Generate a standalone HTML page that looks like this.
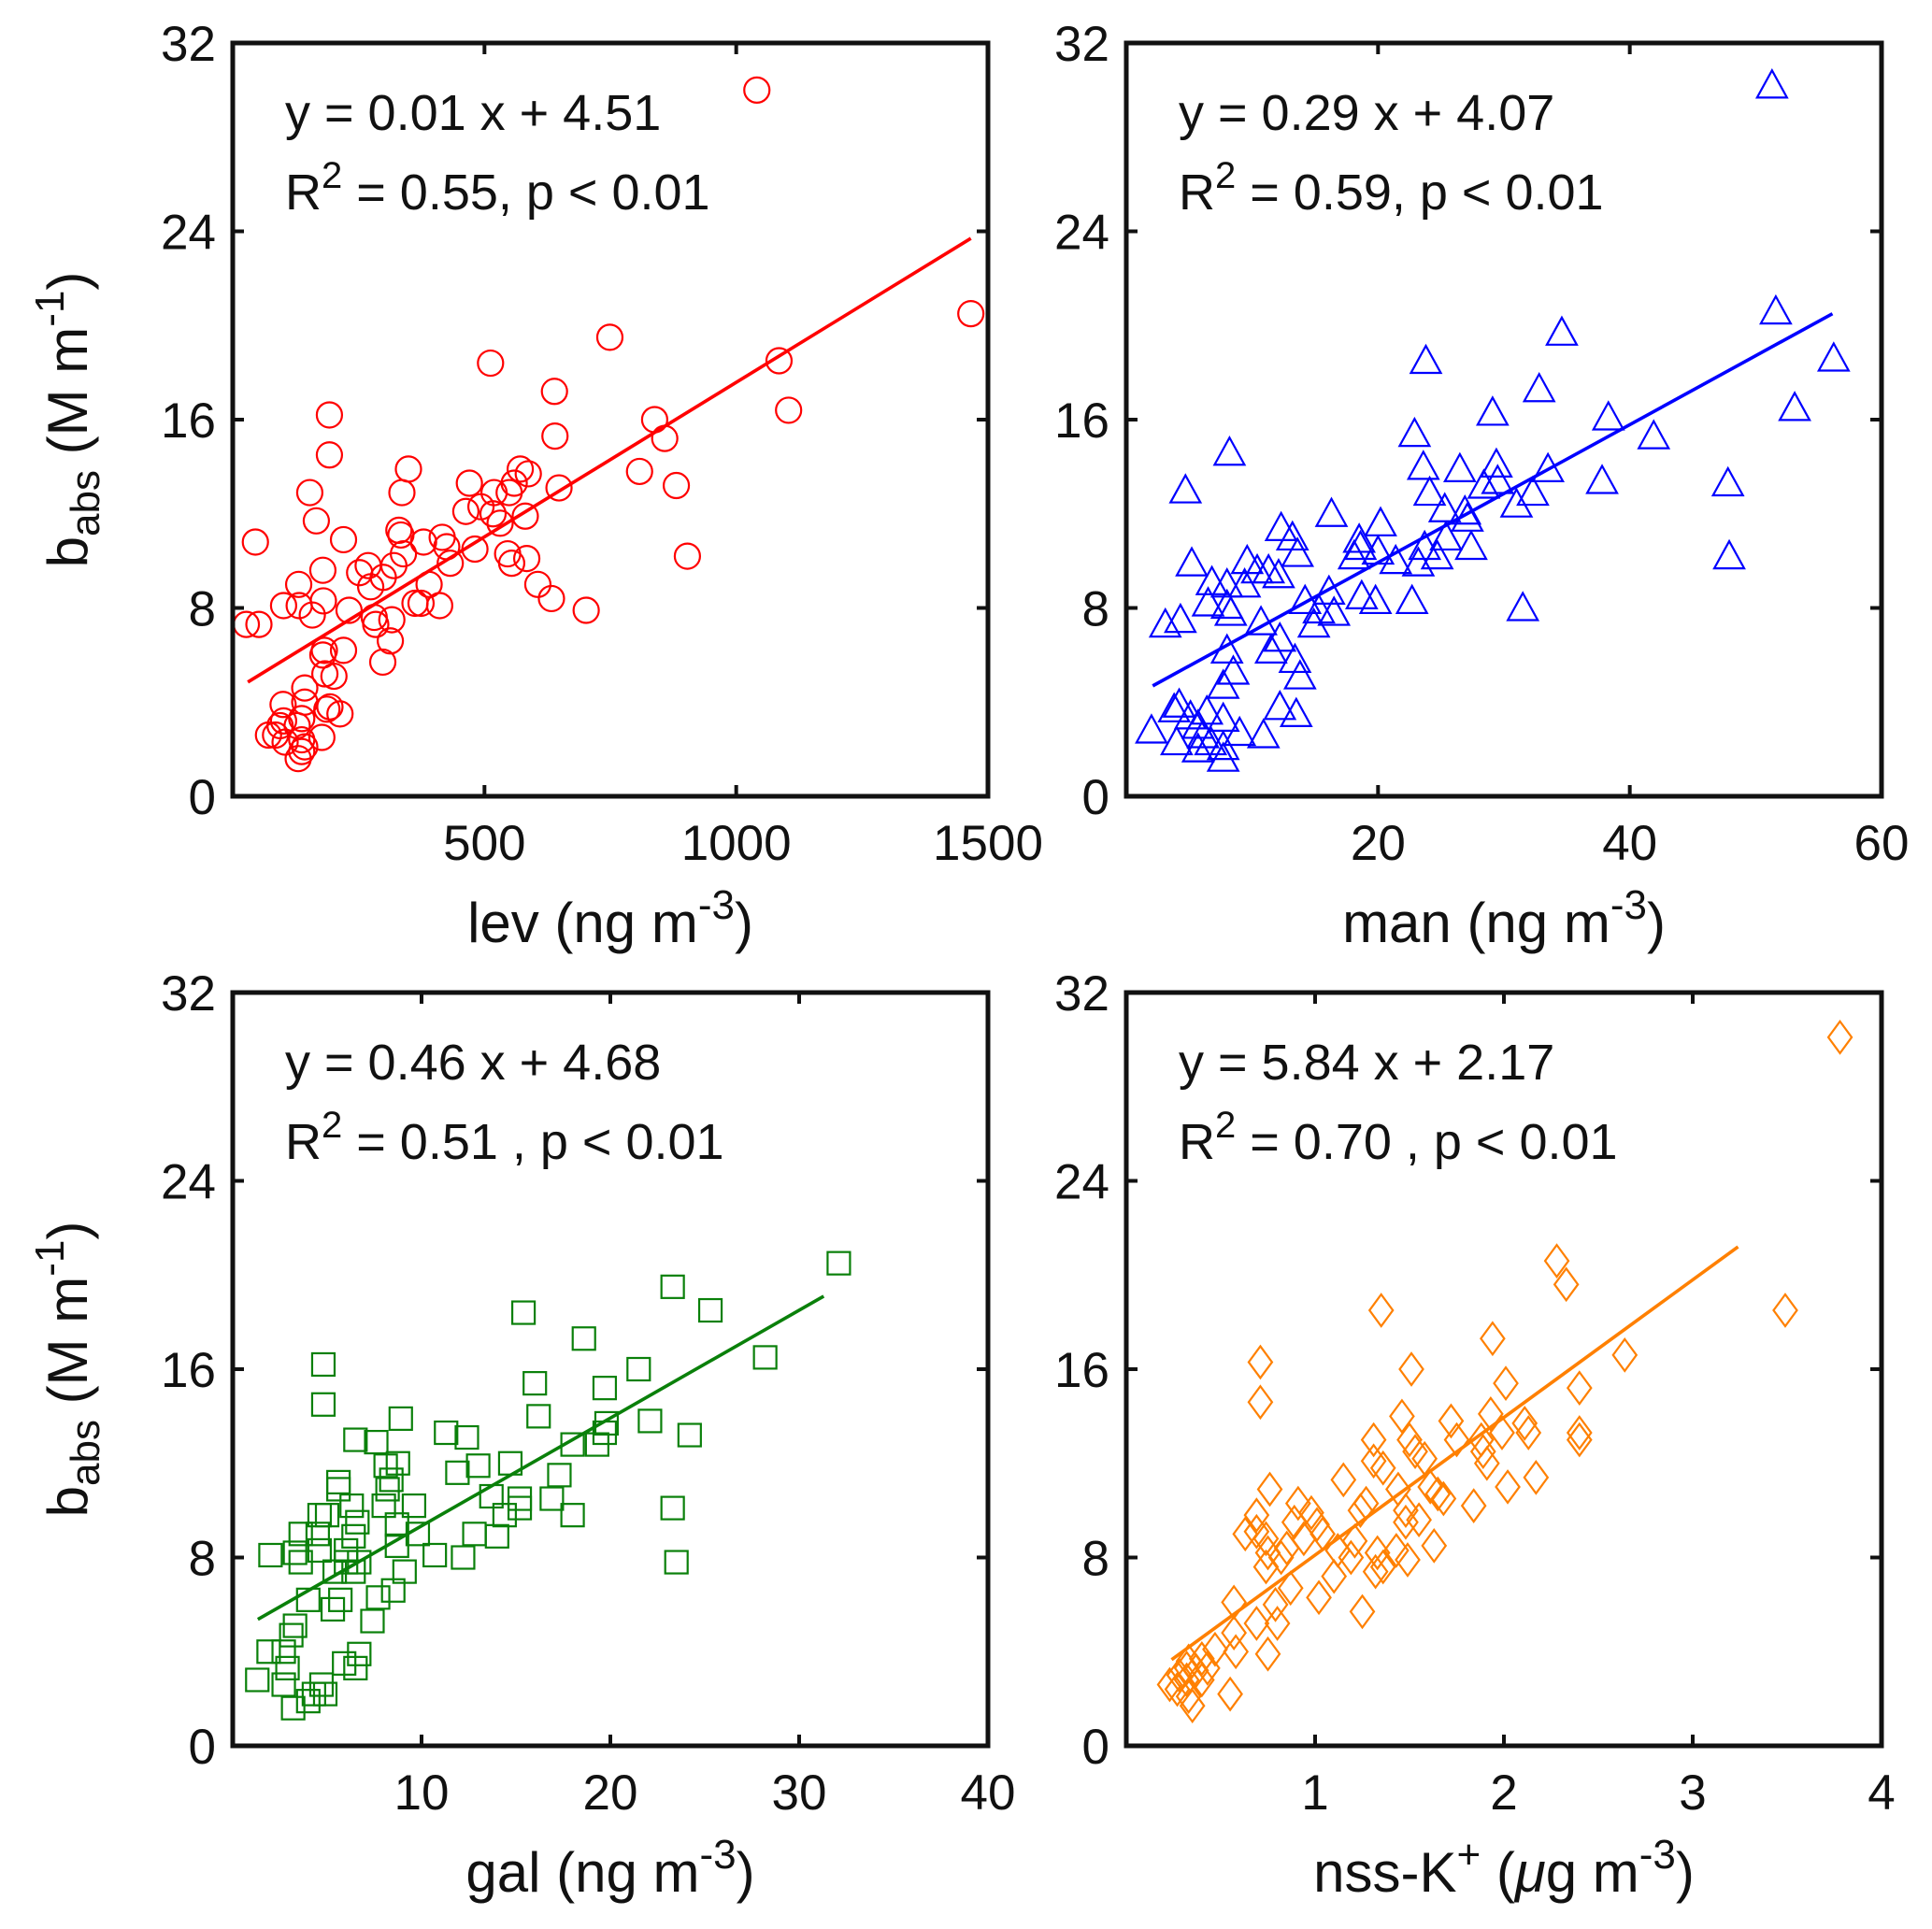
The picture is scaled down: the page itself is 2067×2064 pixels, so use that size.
<!DOCTYPE html>
<html><head><meta charset="utf-8"><style>
html,body{margin:0;padding:0;background:#fff;}
svg{display:block;font-family:"Liberation Sans",Arial,sans-serif;}
</style></head>
<body>
<svg id="fig" width="2067" height="2064" viewBox="0 0 2067 2064" xmlns="http://www.w3.org/2000/svg"></svg>
<script>
// ---- data ----
const yTicks = [0, 8, 16, 24, 32];
const levX = [1041,1466,749,512,1085,639,1104,192,838,640,858,192,349,571,808,587,470,336,559,549,519,153,648,881,463,493,517,581,531,166,330,334,45,220,416,379,425,481,546,584,554,903,432,339,320,252,269,179,299,274,131,390,606,633,362,411,374,180,101,132,158,231,281,702,316,27,52,284,313,182,220,179,298,201,183,143,143,100,193,213,187,137,101,71,85,94,128,177,137,104,143,137,130];
const levY = [30.0,20.5,19.5,18.4,18.5,17.2,16.4,16.2,16.0,15.3,15.2,14.5,13.9,13.9,13.8,13.7,13.3,12.9,13.3,12.9,12.9,12.9,13.1,13.2,12.1,12.3,12.0,11.9,11.6,11.7,11.3,11.1,10.8,10.9,11.0,10.8,10.6,10.5,10.3,10.1,9.9,10.2,9.9,10.3,9.8,9.5,9.8,9.6,9.3,8.9,9.0,9.0,9.0,8.4,8.2,8.1,8.2,8.3,8.1,8.1,7.7,7.9,7.6,7.9,7.5,7.3,7.3,7.3,6.6,6.2,6.2,6.0,5.7,5.1,5.2,4.6,4.0,3.9,3.8,3.5,3.7,3.3,3.2,2.6,2.6,3.0,3.0,2.5,2.4,2.3,2.1,1.9,1.6];
const levFitX = [30, 1466];
const levFitY = [4.85, 23.7];
const levTicks = [500, 1000, 1500];

const manX = [51.3,51.6,34.6,23.8,56.2,32.8,53.1,38.3,29.1,22.9,41.9,8.2,23.6,26.5,29.4,33.5,4.7,37.8,47.8,29.5,28.4,24.1,32.3,31.0,25.3,26.9,27.1,16.3,20.2,47.9,12.3,13.2,13.6,18.5,18.6,18.1,20.0,21.4,23.7,24.7,25.4,27.4,23.2,18.7,19.8,22.7,31.5,5.2,6.8,8.0,9.6,10.4,11.3,12.1,9.4,6.5,8.0,8.3,3.1,4.3,14.2,15.3,16.1,16.5,14.9,10.7,12.2,11.5,13.4,13.8,8.0,8.5,7.7,4.2,3.8,12.2,13.5,2.0,5.1,6.4,7.7,5.7,9.0,10.9,4.0,5.7,6.7,7.7,7.7,6.1];
const manY = [30.2,20.6,19.7,18.5,18.6,17.3,16.5,16.1,16.3,15.4,15.3,14.6,14.0,13.9,14.1,13.9,13.0,13.4,13.3,13.4,13.2,12.9,12.9,12.4,12.2,12.1,11.8,12.0,11.6,10.2,11.4,11.0,10.3,10.9,10.6,10.2,10.4,10.0,10.6,10.2,11.0,10.6,9.9,8.5,8.3,8.3,8.0,9.9,9.1,9.0,10.0,9.6,9.6,9.4,9.0,8.2,8.1,7.8,7.3,7.5,8.3,7.9,8.7,7.8,7.3,7.4,6.7,6.2,5.8,5.1,6.2,5.3,4.7,3.9,3.7,3.8,3.5,2.8,3.4,3.6,3.3,3.0,2.7,2.6,2.3,2.0,2.3,2.1,1.6,2.6];
const manFitX = [2.1, 56.1];
const manFitY = [4.69, 20.5];
const manTicks = [20, 40, 60];

const galX = [32.1,23.3,25.3,15.4,18.6,4.8,28.2,21.5,16.0,19.7,4.8,8.9,16.2,22.1,19.8,19.7,11.3,12.4,24.2,6.5,7.6,18.0,19.3,8.1,8.75,13.0,14.7,11.9,17.3,5.6,5.6,8.4,8.2,6.3,8.0,9.6,13.7,15.2,16.9,15.2,14.4,18.0,23.3,4.6,5.0,6.6,8.7,3.6,4.5,6.4,9.8,12.8,14.0,8.7,2.0,3.3,3.6,4.6,6.0,6.7,6.0,10.7,12.2,23.5,5.4,6.4,9.1,8.5,4.0,5.7,7.7,5.3,7.4,3.3,3.1,1.9,2.7,2.9,5.9,6.7,6.5,1.3,2.7,4.7,4.9,4.3,4.0,3.2];
const galY = [20.5,19.5,18.5,18.4,17.3,16.2,16.5,16.0,15.4,15.2,14.5,13.9,14.0,13.8,13.7,13.3,13.3,13.1,13.2,13.0,12.9,12.8,12.8,11.9,12.0,11.9,12.0,11.6,11.5,11.2,10.9,11.3,10.9,10.2,10.2,10.2,10.6,10.5,10.5,10.1,9.8,9.8,10.1,9.8,9.8,9.5,9.4,9.0,9.0,8.9,9.0,9.0,8.9,8.5,8.1,8.2,7.8,8.3,8.3,7.8,7.8,8.1,8.0,7.8,7.4,7.4,7.4,6.6,6.2,6.2,6.3,5.8,5.3,5.1,4.7,4.0,4.0,3.3,3.5,3.9,3.3,2.8,2.6,2.6,2.2,2.2,1.9,1.6];
const galFitX = [1.33, 31.3];
const galFitY = [5.37, 19.1];
const galTicks = [10, 20, 30, 40];

const kX = [3.78,3.49,2.28,2.33,1.35,1.94,2.64,0.71,1.51,2.01,2.40,0.71,1.46,1.72,1.93,2.11,2.13,2.40,2.40,1.31,1.50,1.88,1.99,1.75,1.31,1.36,1.53,1.58,1.89,1.91,1.15,0.76,2.02,2.17,1.44,1.65,1.68,1.61,1.84,1.27,1.24,0.91,0.98,1.01,0.89,1.48,1.55,1.48,0.69,0.63,0.74,0.69,0.75,0.82,0.85,0.94,1.04,1.63,1.12,1.19,1.21,1.33,1.36,1.43,1.49,1.32,0.74,1.10,0.87,1.02,0.57,1.25,0.79,0.69,0.80,0.57,0.58,0.75,0.47,0.40,0.33,0.37,0.28,0.43,0.32,0.23,0.27,0.33,0.35,0.55,0.40,0.32];
const kY = [30.1,18.5,20.6,19.6,18.5,17.3,16.6,16.3,16.0,15.4,15.2,14.6,14.0,13.8,14.1,13.7,13.3,13.3,13.0,13.0,13.0,13.0,13.3,13.0,12.1,11.8,12.5,12.2,12.5,12.0,11.3,10.9,11.0,11.4,10.9,10.7,10.5,11.0,10.2,10.3,10.0,10.3,9.9,9.4,9.5,10.0,9.6,9.5,9.8,9.0,8.8,9.1,8.2,8.0,8.4,8.8,9.0,8.5,8.3,8.0,8.7,8.2,7.6,8.3,7.9,7.4,7.6,7.2,6.7,6.3,6.1,5.7,6.0,5.2,5.2,4.8,4.0,3.9,4.1,3.7,3.6,3.2,3.0,3.3,2.8,2.6,2.4,2.1,1.7,2.2,2.8,3.3];
const kFitX = [0.24, 3.24];
const kFitY = [3.66, 21.2];
const kTicks = [1, 2, 3, 4];

// ---- drawing ----
const NS = "http://www.w3.org/2000/svg";
const svg = document.getElementById("fig");
function mk(tag, parent) {
  const e = document.createElementNS(NS, tag);
  parent.appendChild(e);
  return e;
}

function panel(opt) {
  const L = opt.left, T = opt.top, W = 808, H = 806;
  const g = mk("g", svg);
  
  
  const sx = v => L + (v - opt.xmin) / (opt.xmax - opt.xmin) * W;
  const sy = v => T + H - v / 32 * H;

  const mg = mk("g", g);
  
  
  for (let i = 0; i < opt.xs.length; i++) {
    const cx = sx(opt.xs[i]), cy = sy(opt.ys[i]);
    let m;
    if (opt.marker === 'circle') {
      m = mk("circle", mg);
      m.setAttribute("cx", cx); m.setAttribute("cy", cy); m.setAttribute("r", 13.5);
    } else if (opt.marker === 'triangle') {
      m = mk("polygon", mg);
      m.setAttribute("points", `${cx},${cy-16} ${cx+16},${cy+13} ${cx-16},${cy+13}`);
    } else if (opt.marker === 'square') {
      m = mk("rect", mg);
      m.setAttribute("x", cx - 12); m.setAttribute("y", cy - 12);
      m.setAttribute("width", 24); m.setAttribute("height", 24);
    } else {
      m = mk("polygon", mg);
      m.setAttribute("points", `${cx},${cy-17} ${cx+12.5},${cy} ${cx},${cy+17} ${cx-12.5},${cy}`);
    }
    m.setAttribute("fill", "none");
    m.setAttribute("stroke", opt.color);
    m.setAttribute("stroke-width", 2.2);
    
    
  }

  const ln = mk("line", g);
  ln.setAttribute("x1", sx(opt.fitX[0])); ln.setAttribute("y1", sy(opt.fitY[0]));
  ln.setAttribute("x2", sx(opt.fitX[1])); ln.setAttribute("y2", sy(opt.fitY[1]));
  ln.setAttribute("stroke", opt.color); ln.setAttribute("stroke-width", 3.6);
  
  

  const fr = mk("rect", g);
  fr.setAttribute("x", L); fr.setAttribute("y", T);
  fr.setAttribute("width", W); fr.setAttribute("height", H);
  fr.setAttribute("fill", "none"); fr.setAttribute("stroke", "#111"); fr.setAttribute("stroke-width", 5);
  
  

  yTicks.forEach(v => {
    const y = sy(v);
    const p = mk("path", g);
    p.setAttribute("d", `M${L},${y}h12M${L+W},${y}h-12`);
    p.setAttribute("stroke", "#111"); p.setAttribute("stroke-width", 4);
    
    
    const t = mk("text", g);
    t.setAttribute("x", L - 18); t.setAttribute("y", y + 19);
    t.setAttribute("text-anchor", "end"); t.setAttribute("font-size", 53); t.setAttribute("fill", "#111");
    t.textContent = v;
    
    
  });
  opt.xTicks.forEach(v => {
    const x = sx(v);
    const p = mk("path", g);
    p.setAttribute("d", `M${x},${T+H}v-12M${x},${T}v12`);
    p.setAttribute("stroke", "#111"); p.setAttribute("stroke-width", 4);
    
    
    const t = mk("text", g);
    t.setAttribute("x", x); t.setAttribute("y", T + H + 68);
    t.setAttribute("text-anchor", "middle"); t.setAttribute("font-size", 53); t.setAttribute("fill", "#111");
    t.textContent = v;
    
    
  });

  const a1 = mk("text", g);
  a1.setAttribute("x", L + 56); a1.setAttribute("y", T + 93);
  a1.setAttribute("font-size", 54); a1.setAttribute("fill", "#111");
  a1.textContent = opt.eq;
  
  
  const a2 = mk("text", g);
  a2.setAttribute("x", L + 56); a2.setAttribute("y", T + 178);
  a2.setAttribute("font-size", 54); a2.setAttribute("fill", "#111");
  a2.innerHTML = 'R<tspan dy="-23" font-size="40">2</tspan><tspan dy="23"> = ' + opt.r2 + '</tspan>';
  
  

  const xl = mk("text", g);
  xl.setAttribute("x", L + W / 2); xl.setAttribute("y", T + H + 156);
  xl.setAttribute("text-anchor", "middle"); xl.setAttribute("font-size", 60); xl.setAttribute("fill", "#111");
  xl.innerHTML = opt.xlabel;
  
  

  if (opt.ylabel) {
    const yl = mk("text", g);
    const cx = 93, cy = T + H / 2;
    yl.setAttribute("transform", `translate(${cx},${cy}) rotate(-90)`);
    yl.setAttribute("text-anchor", "middle"); yl.setAttribute("font-size", 60); yl.setAttribute("fill", "#111");
    yl.innerHTML = 'b<tspan dy="13" font-size="44">abs</tspan><tspan dy="-13"> (M m</tspan><tspan dy="-25" font-size="44">-1</tspan><tspan dy="25">)</tspan>';
    
    
  }
}

panel({name:'lev', left:249, top:46, xmin:0, xmax:1500, xs:levX, ys:levY, fitX:levFitX, fitY:levFitY,
  xTicks:levTicks, marker:'circle', color:'#ff0000', eq:'y = 0.01 x + 4.51', r2:'0.55, p &lt; 0.01',
  xlabel:'lev (ng m<tspan dy="-25" font-size="44">-3</tspan><tspan dy="25">)</tspan>', ylabel:true});
panel({name:'man', left:1205, top:46, xmin:0, xmax:60, xs:manX, ys:manY, fitX:manFitX, fitY:manFitY,
  xTicks:manTicks, marker:'triangle', color:'#0000ff', eq:'y = 0.29 x + 4.07', r2:'0.59, p &lt; 0.01',
  xlabel:'man (ng m<tspan dy="-25" font-size="44">-3</tspan><tspan dy="25">)</tspan>', ylabel:false});
panel({name:'gal', left:249, top:1062, xmin:0, xmax:40, xs:galX, ys:galY, fitX:galFitX, fitY:galFitY,
  xTicks:galTicks, marker:'square', color:'#0a800a', eq:'y = 0.46 x + 4.68', r2:'0.51 , p &lt; 0.01',
  xlabel:'gal (ng m<tspan dy="-25" font-size="44">-3</tspan><tspan dy="25">)</tspan>', ylabel:true});
panel({name:'nss-k', left:1205, top:1062, xmin:0, xmax:4, xs:kX, ys:kY, fitX:kFitX, fitY:kFitY,
  xTicks:kTicks, marker:'diamond', color:'#ff8000', eq:'y = 5.84 x + 2.17', r2:'0.70 , p &lt; 0.01',
  xlabel:'nss-K<tspan dy="-25" font-size="44">+</tspan><tspan dy="25"> (</tspan><tspan font-style="italic">μ</tspan>g m<tspan dy="-25" font-size="44">-3</tspan><tspan dy="25">)</tspan>', ylabel:false});
</script>
</body></html>
